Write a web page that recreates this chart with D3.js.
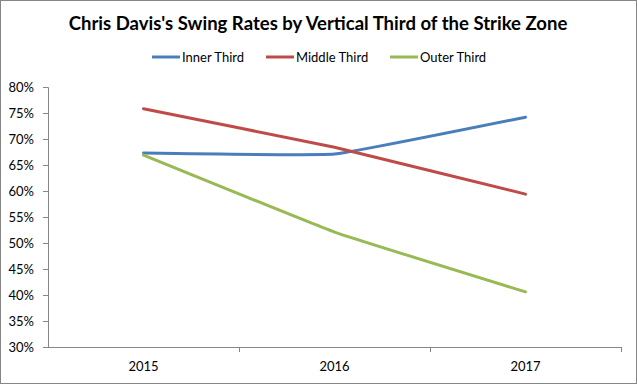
<!DOCTYPE html>
<html>
<head>
<meta charset="utf-8">
<script src="https://cdn.jsdelivr.net/npm/d3@7"></script>
<style>
  body { margin: 0; background: #fff; }
  svg { display: block; font-family: Lato, "Open Sans", sans-serif; }
</style>
</head>
<body>
<div id="chart"></div>
<script>
// data
var years = ["2015", "2016", "2017"];
var innerThird = [67.3, 67.1, 74.2];
var middleThird = [75.8, 68.4, 59.4];
var outerThird = [66.9, 52.1, 40.6];
var seriesNames = ["Inner Third", "Middle Third", "Outer Third"];
var seriesColors = ["#4A7EBB", "#BE4B48", "#98B954"];
var yTicks = [30, 35, 40, 45, 50, 55, 60, 65, 70, 75, 80];

var width = 637, height = 384;
var margin = { left: 48, right: 16, top: 87, bottom: 37 };

var svg = d3.select("#chart").append("svg")
      .attr("width", width)
      .attr("height", height);

// outer frame
svg.append("rect")
      .attr("x", 0.5).attr("y", 0.5)
      .attr("width", width - 1).attr("height", height - 1)
      .attr("fill", "#fff")
      .attr("stroke", "#868686");

var x = d3.scaleBand().domain(years).range([margin.left, width - margin.right]);
var y = d3.scaleLinear().domain([30, 80]).range([height - margin.bottom, margin.top]);

// title, sized to match the reference width
var title = svg.append("text")
      .attr("x", 318).attr("y", 30)
      .attr("text-anchor", "middle")
      .style("font-weight", "bold")
      .style("font-size", "19px")
      .style("fill", "#000")
      .text("Chris Davis's Swing Rates by Vertical Third of the Strike Zone");
var tw = title.node().getComputedTextLength();
title.style("font-size", (19 * 499 / tw) + "px");

// y axis
var yAxis = svg.append("g")
      .attr("transform", "translate(" + margin.left + ",0)")
      .call(d3.axisLeft(y).tickValues(yTicks).tickSize(5).tickPadding(9)
            .tickFormat(function (d) { return d + "%"; }));
yAxis.selectAll("path, line").attr("stroke", "#868686");
yAxis.selectAll("text").style("font-size", "13px").style("fill", "#000")
      .style("font-family", "Lato, sans-serif");

// x axis line with ticks at category boundaries
var xBase = y(30);
svg.append("line")
      .attr("x1", margin.left).attr("x2", width - margin.right)
      .attr("y1", xBase + 0.5).attr("y2", xBase + 0.5)
      .attr("stroke", "#868686");
svg.selectAll(".xtick")
      .data(years.slice(1).concat(["end"]))
      .enter().append("line")
      .attr("class", "xtick")
      .attr("x1", function (d, i) { return Math.round(margin.left + x.bandwidth() * (i + 1)) + 0.5; })
      .attr("x2", function (d, i) { return Math.round(margin.left + x.bandwidth() * (i + 1)) + 0.5; })
      .attr("y1", xBase).attr("y2", xBase + 5)
      .attr("stroke", "#868686");
svg.selectAll(".xlabel")
      .data(years)
      .enter().append("text")
      .attr("class", "xlabel")
      .attr("x", function (d) { return x(d) + x.bandwidth() / 2; })
      .attr("y", xBase + 24)
      .attr("text-anchor", "middle")
      .style("font-size", "13px")
      .text(function (d) { return d; });

// lines (Excel-style light smoothing)
var allSeries = [innerThird, middleThird, outerThird];
var line = d3.line()
      .x(function (d, i) { return x(years[i]) + x.bandwidth() / 2; })
      .y(function (d) { return y(d); })
      .curve(d3.curveCardinal.tension(0.75));
svg.selectAll(".series")
      .data(allSeries)
      .enter().append("path")
      .attr("class", "series")
      .attr("d", line)
      .attr("fill", "none")
      .attr("stroke", function (d, i) { return seriesColors[i]; })
      .attr("stroke-width", 3)
      .attr("stroke-linecap", "round");

// legend
var legendX = [152, 266, 390];
var lg = svg.selectAll(".legend")
      .data(seriesNames)
      .enter().append("g")
      .attr("class", "legend")
      .attr("transform", function (d, i) { return "translate(" + legendX[i] + ",57)"; });
lg.append("line")
      .attr("x1", 0).attr("x2", 28)
      .attr("stroke", function (d, i) { return seriesColors[i]; })
      .attr("stroke-width", 3);
lg.append("text")
      .attr("x", 30).attr("y", 5)
      .style("font-size", "13px")
      .text(function (d) { return d; });
</script>
</body>
</html>
